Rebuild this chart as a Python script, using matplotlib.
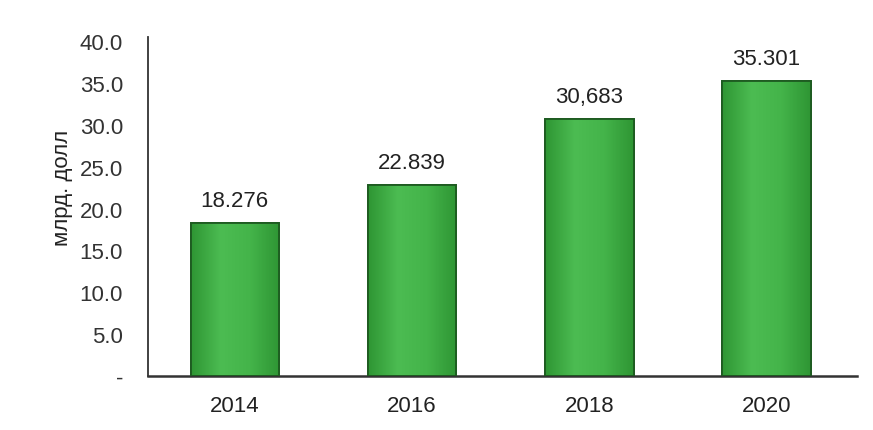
import numpy as np
import matplotlib.pyplot as plt
from matplotlib.colors import LinearSegmentedColormap

plt.rcParams['font.family'] = ['Liberation Sans', 'DejaVu Sans']

years = ['2014', '2016', '2018', '2020']
values = [18.276, 22.839, 30.683, 35.301]
value_labels = ['18.276', '22.839', '30,683', '35.301']
y_ticks = [0, 5, 10, 15, 20, 25, 30, 35, 40]
y_tick_labels = ['-', '5.0', '10.0', '15.0', '20.0', '25.0', '30.0', '35.0', '40.0']

fig = plt.figure(figsize=(8.73, 4.31), dpi=100)
ax = fig.add_axes([0.1695, 0.1253, 0.812, 0.7865])

x = np.arange(len(years))
bars = ax.bar(x, values, width=0.5, color='#3aa83e', edgecolor='#1d5a20', linewidth=1.3, zorder=2)

# soft horizontal shading inside each bar
shade = LinearSegmentedColormap.from_list('shade', ['#2f9634', '#4cbc52', '#44b44a', '#2f9634'])
grad = np.linspace(0, 1, 64).reshape(1, -1)
for b in bars:
    im = ax.imshow(grad, cmap=shade, aspect='auto', zorder=2.5,
                   extent=[b.get_x(), b.get_x() + b.get_width(), 0, b.get_height()])
    im.set_clip_path(b)
    ax.bar(b.get_x() + b.get_width() / 2, b.get_height(), width=b.get_width(),
           facecolor='none', edgecolor='#1d5a20', linewidth=1.3, zorder=3)

for b, lab in zip(bars, value_labels):
    ax.text(b.get_x() + b.get_width() / 2, b.get_height() + 1.4, lab,
            ha='center', va='bottom', fontsize=16, color='#222222')

ax.set_xlim(-0.49, 3.51)
ax.set_ylim(0, 40.5)
ax.set_xticks(x)
ax.set_xticklabels(years, fontsize=16, color='#222222')
ax.set_yticks(y_ticks)
ax.set_yticklabels(y_tick_labels, fontsize=16, color='#333333')
ax.tick_params(length=0)
ax.tick_params(axis='y', pad=18)
ax.tick_params(axis='x', pad=14)

fig.text(63 / 873, 0.564, 'млрд. долл', rotation=90, ha='center', va='center',
         fontsize=16, color='#222222')

ax.spines['top'].set_visible(False)
ax.spines['right'].set_visible(False)
ax.spines['left'].set_color('#333333')
ax.spines['left'].set_linewidth(1.3)
ax.spines['bottom'].set_color('#333333')
ax.spines['bottom'].set_linewidth(1.8)

fig.savefig('out.png', dpi=100)
